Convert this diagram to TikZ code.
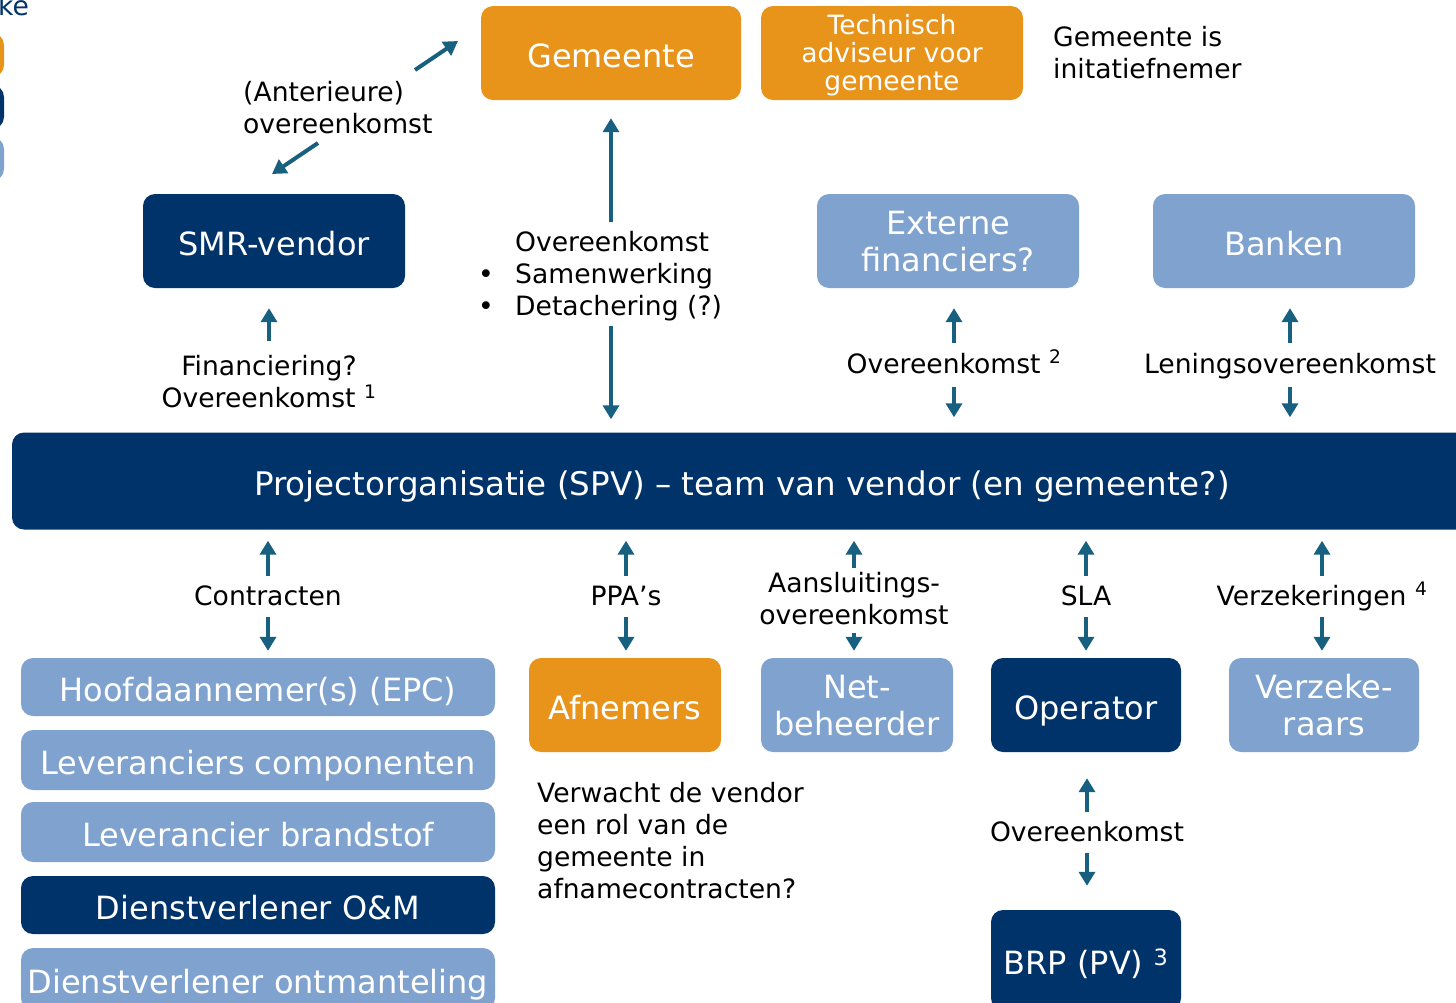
\documentclass[tikz,border=0pt]{standalone}
\usepackage{fontspec}
\setmainfont{DejaVu Sans}
\usetikzlibrary{arrows.meta}
\definecolor{oranje}{HTML}{E8931A}
\definecolor{donker}{HTML}{00336A}
\definecolor{licht}{HTML}{7FA3CE}
\definecolor{pijl}{HTML}{17607F}
\newcommand{\groot}{\fontsize{32}{37}\selectfont}
\newcommand{\klein}{\fontsize{26.6}{32}\selectfont}
\newcommand{\regel}{\rule[-0.23em]{0pt}{1.37em}}

\begin{document}
\begin{tikzpicture}[x=1pt,y=-1pt,
  blok/.style={rounded corners=12pt, text=white, align=center, inner sep=0pt, font=\groot,
    execute at begin node=\regel},
  oranjeblok/.style={blok, fill=oranje},
  donkerblok/.style={blok, fill=donker},
  lichtblok/.style={blok, fill=licht},
  tweeregels/.style={text depth=-5pt},
  lbl/.style={font=\klein, align=center, inner sep=0pt},
  lbl1/.style={lbl, text height=20pt, text depth=6pt},
  pijlstijl/.style={pijl, line width=4pt, -{Triangle[width=16pt,length=14pt]}}]
\clip (0,0) rectangle (1456,1002);

% legenda (afgesneden)
\node[font=\klein, text=donker, anchor=west, inner sep=0pt] (leg) at (-2,6) {ke};
\node[oranjeblok, minimum width=60pt, minimum height=36pt] (legA) at (-26,55) {};
\node[donkerblok, minimum width=60pt, minimum height=38pt] (legB) at (-26,107) {};
\node[lichtblok, minimum width=60pt, minimum height=38pt] (legC) at (-26,159) {};

% bovenste rij
\node[oranjeblok, minimum width=260pt, minimum height=94pt] (gem) at (611,53) {Gemeente};
\node[oranjeblok, minimum width=262pt, minimum height=94pt, font=\fontsize{26.5}{28}\selectfont, text depth=2pt] (tech) at (892,53) {Technisch\\adviseur voor\\gemeente};
\node[lbl, align=left, anchor=west] (init) at (1053,53) {Gemeente is\\initatiefnemer};
\node[lbl, align=left, anchor=west] (ant) at (243,108) {(Anterieure)\\overeenkomst};

\node[donkerblok, minimum width=262pt, minimum height=94pt] (smr) at (274,241) {SMR-vendor};
\node[lichtblok, tweeregels, minimum width=262pt, minimum height=94pt] (ext) at (948,241) {Externe\\financiers?};
\node[lichtblok, minimum width=262pt, minimum height=94pt] (bank) at (1284,241) {Banken};

\node[lbl, align=left, anchor=west] (ovk) at (478,276) {\hspace*{37pt}Overeenkomst\\\makebox[37pt][l]{\textbullet}Samenwerking\\\makebox[37pt][l]{\textbullet}Detachering (?)};
\node[lbl] (fin) at (269,382) {Financiering?\\Overeenkomst \textsuperscript{1}};
\node[lbl1] (ovk2) at (954,366) {Overeenkomst \textsuperscript{2}};
\node[lbl1] (lening) at (1290,366) {Leningsovereenkomst};

% projectorganisatie
\node[donkerblok, minimum width=1460pt, minimum height=97pt, font=\fontsize{32.5}{37}\selectfont] (spv) at (742,481) {Projectorganisatie (SPV) -- team van vendor (en gemeente?)};

% onderste labels
\node[lbl1] (contr) at (268,598) {Contracten};
\node[lbl1] (ppa) at (626,598) {PPA’s};
\node[lbl] (aansl) at (854,599) {Aansluitings-\\overeenkomst};
\node[lbl1] (sla) at (1086,598) {SLA};
\node[lbl1] (verzlbl) at (1322,598) {Verzekeringen \textsuperscript{4}};

% onderste blokken
\node[lichtblok, minimum width=474pt, minimum height=58pt] (hoofd) at (258,687) {Hoofdaannemer(s) (EPC)};
\node[lichtblok, minimum width=474pt, minimum height=60pt] (lev) at (258,760) {Leveranciers componenten};
\node[lichtblok, minimum width=474pt, minimum height=60pt] (brand) at (258,832) {Leverancier brandstof};
\node[donkerblok, minimum width=474pt, minimum height=58pt] (om) at (258,905) {Dienstverlener O\&M};
\node[lichtblok, minimum width=474pt, minimum height=62pt] (ontm) at (258,979) {Dienstverlener ontmanteling};

\node[oranjeblok, minimum width=192pt, minimum height=94pt] (afn) at (625,705) {Afnemers};
\node[lichtblok, tweeregels, minimum width=192pt, minimum height=94pt] (net) at (857,705) {Net-\\beheerder};
\node[donkerblok, minimum width=190pt, minimum height=94pt] (op) at (1086,705) {Operator};
\node[lichtblok, tweeregels, minimum width=190pt, minimum height=94pt] (verz) at (1324,705) {Verzeke-\\raars};

\node[lbl, align=left, anchor=west] (vraag) at (537,841) {Verwacht de vendor\\een rol van de\\gemeente in\\afnamecontracten?};
\node[lbl1] (ovk3) at (1087,834) {Overeenkomst};
\node[donkerblok, minimum width=190pt, minimum height=100pt] (brp) at (1086,960) {BRP (PV) \textsuperscript{3}};

% pijlen
\coordinate (antA) at (318,143);
\coordinate (antB) at (272,174);
\coordinate (antC) at (415,70);
\coordinate (antD) at (458,41);
\draw[pijlstijl] (antA) -- (antB);
\draw[pijlstijl] (antC) -- (antD);

\draw[pijlstijl, shorten <=9pt, shorten >=18pt] (gem.south |- ovk.north) -- (gem.south);
\draw[pijlstijl, shorten <=5pt, shorten >=13pt] (gem.south |- ovk.south) -- (gem.south |- spv.north);
\draw[pijlstijl, shorten <=15pt, shorten >=20pt] (fin.north) -- (fin.north |- smr.south);
\draw[pijlstijl, shorten <=10pt, shorten >=20pt] (ovk2.north) -- (ovk2.north |- ext.south);
\draw[pijlstijl, shorten <=8pt, shorten >=15pt] (ovk2.south) -- (ovk2.south |- spv.north);
\draw[pijlstijl, shorten <=10pt, shorten >=20pt] (lening.north) -- (lening.north |- bank.south);
\draw[pijlstijl, shorten <=8pt, shorten >=15pt] (lening.south) -- (lening.south |- spv.north);

\draw[pijlstijl, shorten <=9pt, shorten >=11pt] (contr.north) -- (contr.north |- spv.south);
\draw[pijlstijl, shorten <=6pt, shorten >=7pt] (contr.south) -- (contr.south |- hoofd.north);
\draw[pijlstijl, shorten <=9pt, shorten >=11pt] (ppa.north) -- (ppa.north |- spv.south);
\draw[pijlstijl, shorten <=6pt, shorten >=7pt] (ppa.south) -- (ppa.south |- afn.north);
\draw[pijlstijl, shorten <=5pt, shorten >=11pt] (aansl.north) -- (aansl.north |- spv.south);
\draw[pijlstijl, shorten <=7pt, shorten >=7pt] (aansl.south) -- (aansl.south |- net.north);
\draw[pijlstijl, shorten <=9pt, shorten >=11pt] (sla.north) -- (sla.north |- spv.south);
\draw[pijlstijl, shorten <=6pt, shorten >=7pt] (sla.south) -- (sla.south |- op.north);
\draw[pijlstijl, shorten <=9pt, shorten >=11pt] (verzlbl.north) -- (verzlbl.north |- spv.south);
\draw[pijlstijl, shorten <=6pt, shorten >=7pt] (verzlbl.south) -- (verzlbl.south |- verz.north);
\draw[pijlstijl, shorten <=9pt, shorten >=26pt] (ovk3.north) -- (ovk3.north |- op.south);
\draw[pijlstijl, shorten <=6pt, shorten >=24pt] (ovk3.south) -- (ovk3.south |- brp.north);
\end{tikzpicture}
\end{document}
